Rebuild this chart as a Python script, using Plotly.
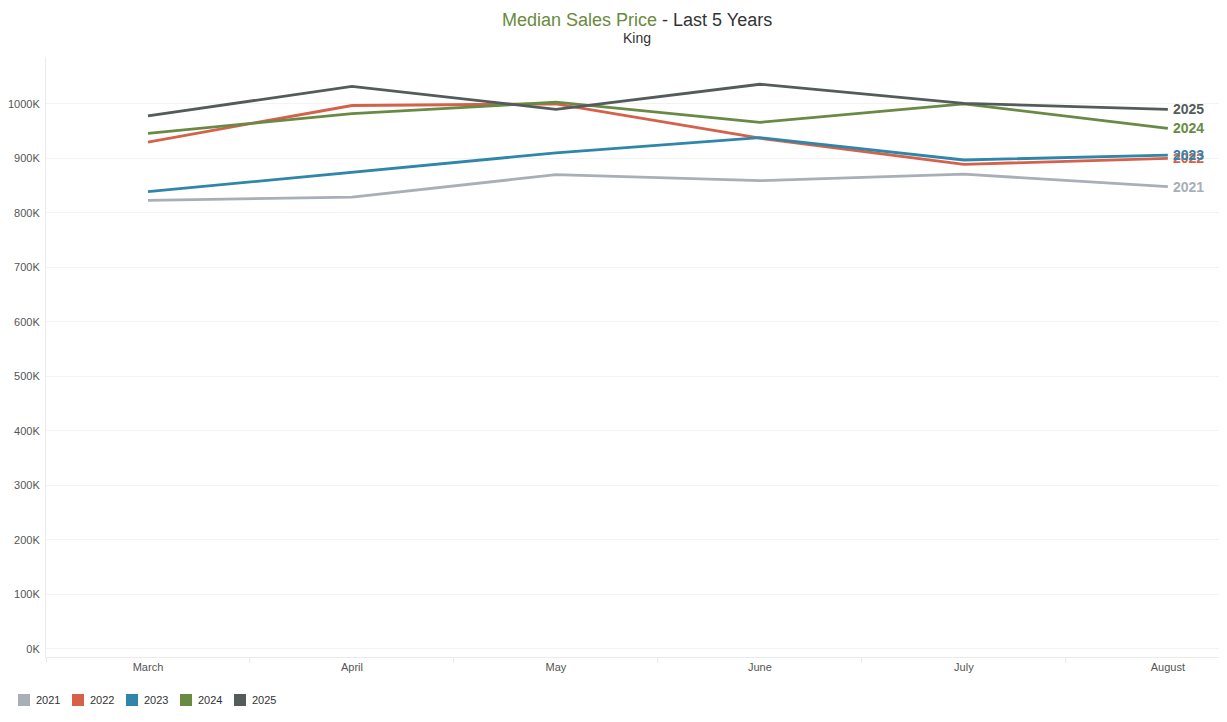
import plotly.graph_objects as go

months = ["March", "April", "May", "June", "July", "August"]
years = ["2021", "2022", "2023", "2024", "2025"]
v2021 = [823, 829, 870, 859, 871, 848]
v2022 = [930, 997, 1000, 937, 889, 900]
v2023 = [839, 875, 910, 938, 897, 906]
v2024 = [946, 982, 1003, 966, 1000, 955]
v2025 = [978, 1032, 990, 1036, 1001, 990]
series = [v2021, v2022, v2023, v2024, v2025]
colors = ["#A8AFB6", "#D5614A", "#2E86AB", "#688A45", "#545B5B"]
ytick_vals = [0, 100, 200, 300, 400, 500, 600, 700, 800, 900, 1000]
ytick_text = [f"{v}K" for v in ytick_vals]

font_family = "Arial, Liberation Sans, sans-serif"
fig = go.Figure()

for name, vals, col in zip(years, series, colors):
    fig.add_trace(go.Scatter(x=months, y=vals, mode="lines", name=name,
                             line=dict(color=col, width=2.8), showlegend=False,
                             hovertemplate="%{x}: %{y}K<extra>" + name + "</extra>"))

# page offset (body margin 8px) compensated in layout sizes
PW, PH = 1181, 600  # plot area in px
def px_x(p):  # page pixel -> paper x
    return (p - 46) / PW
def px_y(p):  # page pixel -> paper y
    return (657 - p) / PH

annotations = []
for name, vals, col in zip(years, series, colors):
    annotations.append(dict(x=months[-1], y=vals[-1], xref="x", yref="y",
                            text=f"<b>{name}</b>", showarrow=False,
                            xanchor="left", yanchor="middle", xshift=3,
                            font=dict(size=14, color=col, family=font_family)))
annotations.append(dict(x=0.5, y=1.0, xref="paper", yref="paper", yshift=49,
                        text="<span style='color:#6A8A3E'>Median Sales Price</span> - Last 5 Years",
                        showarrow=False, xanchor="center", yanchor="top",
                        font=dict(size=18, color="#333333", family=font_family)))
annotations.append(dict(x=0.5, y=1.0, xref="paper", yref="paper", yshift=29,
                        text="King", showarrow=False, xanchor="center", yanchor="top",
                        font=dict(size=14, color="#333333", family=font_family)))

shapes = []
leg_x0 = 18
leg_step = 54
for i, (name, col) in enumerate(zip(years, colors)):
    x0 = leg_x0 + i * leg_step
    shapes.append(dict(type="rect", xref="paper", yref="paper",
                       x0=px_x(x0), x1=px_x(x0 + 12), y0=px_y(706), y1=px_y(694),
                       fillcolor=col, line=dict(width=0)))
    annotations.append(dict(x=px_x(x0 + 16), y=px_y(700), xref="paper", yref="paper",
                            text=name, showarrow=False, xanchor="left", yanchor="middle",
                            font=dict(size=11, color="#333333", family=font_family)))

fig.update_layout(
    width=1219, height=714,
    margin=dict(l=38, r=0, t=49, b=65, autoexpand=False),
    plot_bgcolor="white", paper_bgcolor="white",
    font=dict(family=font_family, size=11, color="#555555"),
    annotations=annotations, shapes=shapes,
    showlegend=False,
    xaxis=dict(type="category", range=[-0.5, 5.29], showgrid=False,
               showline=True, linecolor="#EBEBEB", linewidth=1,
               ticks="outside", tickson="boundaries", ticklen=5, tickcolor="#EBEBEB",
               tickfont=dict(size=11, color="#555555"), zeroline=False),
    yaxis=dict(range=[-15, 1086], tickvals=ytick_vals, ticktext=ytick_text,
               showgrid=True, gridcolor="#F3F3F3", gridwidth=1,
               showline=True, linecolor="#EBEBEB", linewidth=1,
               zeroline=False, ticks="", ticklabelstandoff=3,
               tickfont=dict(size=11, color="#555555")),
)

fig.write_html("out.html")
